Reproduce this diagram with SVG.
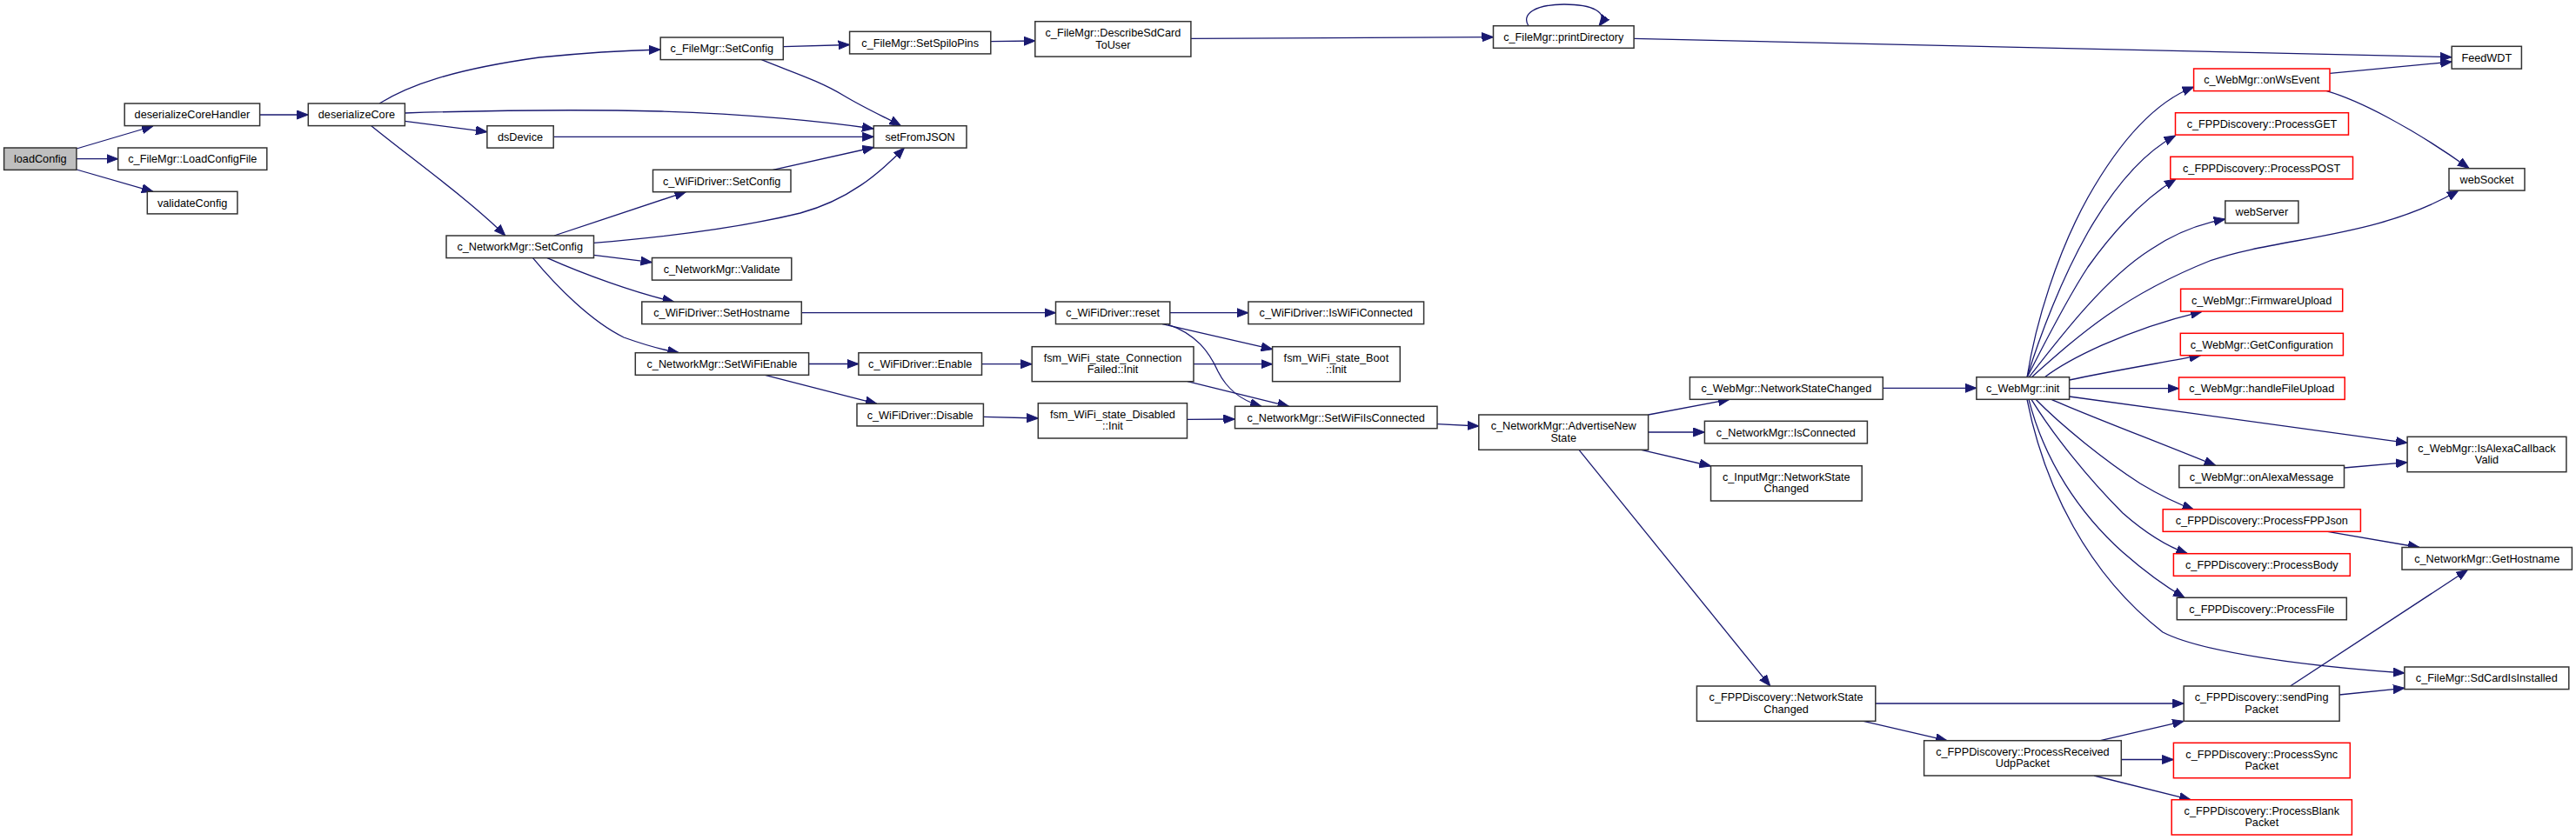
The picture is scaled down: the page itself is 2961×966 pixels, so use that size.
<svg xmlns="http://www.w3.org/2000/svg" width="2961" height="966" viewBox="0 0 2961 966">
<style>
.n rect{fill:#fff;stroke:#333;stroke-width:1.5}
.r rect{fill:#fff;stroke:#ff0000;stroke-width:1.5}
.root rect{fill:#bfbfbf;stroke:#333;stroke-width:1.5}
text{font-family:"Liberation Sans",Arial,Helvetica,sans-serif;font-size:12.7px;fill:#000;text-anchor:middle}
.e path{fill:none;stroke:#191970;stroke-width:1.3;marker-end:url(#a)}
</style>
<defs>
<marker id="a" markerWidth="13" markerHeight="11" refX="13" refY="5.5" orient="auto" markerUnits="userSpaceOnUse">
<path d="M0,0.5 L13,5.5 L0,10.5 z" fill="#191970" stroke="#191970" stroke-width="1"/>
</marker>
</defs>
<rect width="2961" height="966" fill="#fff"/>
<g class="e" id="edges">
<path d="M88,171 L176,145"/>
<path d="M88,182.7 L135.7,182.7"/>
<path d="M88,195 L176,220.3"/>
<path d="M298.6,132 L354.3,132"/>
<path d="M436,119 C470,98 520,80 620,66 C680,60 720,58 759,57"/>
<path d="M465.4,130 C560,127 680,126 760,128 C860,131 950,140 1004,148"/>
<path d="M465.4,139.3 L559.9,151.7"/>
<path d="M426.8,144.7 C470,180 540,230 580.8,271"/>
<path d="M900.3,53.7 L976.6,51.5"/>
<path d="M875.4,68.7 C910,83 940,92 970,110 C995,125 1020,136 1035.6,144.7"/>
<path d="M636.2,157.3 L1004.3,157.3"/>
<path d="M888.5,195.3 L1004.3,169.5"/>
<path d="M637,271 L788.4,220.7"/>
<path d="M682.5,279.3 C760,273 850,262 920,245 C975,230 1010,200 1039.5,170"/>
<path d="M682.5,293.3 L749.5,301.7"/>
<path d="M629,296.7 C670,315 730,337 774.6,347"/>
<path d="M612.5,296.7 C640,330 680,370 717,388 C745,398 765,403 780.5,405.7"/>
<path d="M921.3,359.7 L1213.5,359.7"/>
<path d="M929.6,418.5 L986.9,418.5"/>
<path d="M879.4,431.3 L1007.9,464.3"/>
<path d="M1344.8,359.7 L1434.9,359.7"/>
<path d="M1336,372.7 L1462.6,401.7"/>
<path d="M1343,373.3 C1375,384 1390,405 1400,427 C1410,447 1425,460 1450,467.3"/>
<path d="M1128.5,418.7 L1186.2,418.7"/>
<path d="M1372,418.7 L1462.6,418.7"/>
<path d="M1365,438.7 L1481.6,467.3"/>
<path d="M1130.4,479.3 L1193.3,481"/>
<path d="M1364.5,482.3 L1419.5,482"/>
<path d="M1652,487.7 L1699.8,490"/>
<path d="M1894.6,477 L1988,459.3"/>
<path d="M1894.6,497 L1959.4,497"/>
<path d="M1886.6,517.3 L1966.5,536"/>
<path d="M1815,517.3 L2034.8,789"/>
<path d="M2164.3,446.3 L2271.9,446.3"/>
<path d="M2155.8,809 L2510.2,809"/>
<path d="M2142,829.3 L2238,851.7"/>
<path d="M2414.3,851.7 L2510.2,829.3"/>
<path d="M2438.3,873.5 L2498.4,873.5"/>
<path d="M2407,892 L2518,919.7"/>
<path d="M2632.6,789 L2836.5,655.3"/>
<path d="M2689,799 L2763.9,791.3"/>
<path d="M2675.5,611.3 L2781,629.5"/>
<path d="M2694.5,538 L2767.1,531.7"/>
<path d="M1878,44.3 L2818,65.7"/>
<path d="M1757,30 C1748,16 1765,5 1798,5 C1830,5 1850,14 1838,30"/>
<path d="M1368.9,44.3 L1716.5,42.7"/>
<path d="M1138.8,47.7 L1189.8,47"/>
<path d="M2678,84.3 L2818.2,71"/>
<path d="M2674.4,104.7 C2710,115 2770,145 2838,193.5"/>
<path d="M2330,434 C2340,370 2365,290 2400,227 C2435,165 2475,118 2521.6,100"/>
<path d="M2330,434 C2345,385 2370,320 2400,267 C2430,215 2465,175 2500.5,156"/>
<path d="M2330,434 C2350,395 2375,345 2400,307 C2430,265 2465,228 2501,206"/>
<path d="M2332,434 C2370,385 2420,320 2472,287 C2500,268 2530,257 2557.8,252"/>
<path d="M2335,434 C2390,385 2440,340 2540,300 C2620,272 2730,275 2826,219"/>
<path d="M2350,434 C2375,415 2440,380 2531,358.3"/>
<path d="M2378.6,437 C2420,428 2480,418 2529.5,408.7"/>
<path d="M2378.6,446.7 L2504.5,446.7"/>
<path d="M2378.6,456 L2767.1,509.3"/>
<path d="M2358,459.3 C2400,478 2480,508 2546.7,535.3"/>
<path d="M2340,459.3 C2370,490 2420,530 2460,556 C2485,571 2505,580 2521.6,586"/>
<path d="M2335,459.3 C2360,500 2400,550 2440,590 C2465,612 2490,628 2514.5,636.7"/>
<path d="M2332,459.3 C2350,530 2390,590 2440,635 C2465,657 2490,675 2511,687.3"/>
<path d="M2330,459.3 C2350,560 2400,660 2486,727 C2530,750 2650,766 2763.9,774"/>
</g>
<g class="root" id="loadConfig"><rect x="4.6" y="170" width="83.3" height="25.4"/><text x="46.3" y="187.3">loadConfig</text></g>
<g class="n" id="deserializeCoreHandler"><rect x="143.2" y="119" width="155.4" height="25.6"/><text x="220.9" y="136.4">deserializeCoreHandler</text></g>
<g class="n" id="LoadConfigFile"><rect x="135.7" y="170" width="171.1" height="25.4"/><text x="221.3" y="187.3">c_FileMgr::LoadConfigFile</text></g>
<g class="n" id="validateConfig"><rect x="169.3" y="220.3" width="103.6" height="25.6"/><text x="221.1" y="237.7">validateConfig</text></g>
<g class="n" id="deserializeCore"><rect x="354.3" y="119" width="111.1" height="25.6"/><text x="409.9" y="136.4">deserializeCore</text></g>
<g class="n" id="FileMgrSetConfig"><rect x="759.2" y="43" width="141.1" height="25.6"/><text x="829.8" y="60.4">c_FileMgr::SetConfig</text></g>
<g class="n" id="SetSpiloPins"><rect x="976.6" y="36.3" width="162.2" height="25.6"/><text x="1057.7" y="53.7">c_FileMgr::SetSpiloPins</text></g>
<g class="n" id="DescribeSdCardToUser"><rect x="1189.8" y="24.7" width="179.1" height="40.4"/><text x="1279.4" y="41.9">c_FileMgr::DescribeSdCard</text><text x="1279.4" y="55.5">ToUser</text></g>
<g class="n" id="printDirectory"><rect x="1716.5" y="29.7" width="161.6" height="25.6"/><text x="1797.3" y="47.1">c_FileMgr::printDirectory</text></g>
<g class="n" id="FeedWDT"><rect x="2818.2" y="53.3" width="80.2" height="25.8"/><text x="2858.3" y="70.8">FeedWDT</text></g>
<g class="n" id="dsDevice"><rect x="559.9" y="144.7" width="76.3" height="25.4"/><text x="598" y="162">dsDevice</text></g>
<g class="n" id="setFromJSON"><rect x="1004.3" y="144.7" width="106.7" height="25.4"/><text x="1057.6" y="162">setFromJSON</text></g>
<g class="n" id="WiFiDriverSetConfig"><rect x="750.5" y="195.3" width="158.5" height="25.4"/><text x="829.7" y="212.6">c_WiFiDriver::SetConfig</text></g>
<g class="n" id="NetworkMgrSetConfig"><rect x="513" y="271" width="169.5" height="25.6"/><text x="597.7" y="288.4">c_NetworkMgr::SetConfig</text></g>
<g class="n" id="NetworkMgrValidate"><rect x="749.5" y="296.5" width="160.3" height="25.6"/><text x="829.6" y="313.9">c_NetworkMgr::Validate</text></g>
<g class="n" id="SetHostname"><rect x="737.8" y="347" width="183.5" height="25.6"/><text x="829.5" y="364.4">c_WiFiDriver::SetHostname</text></g>
<g class="n" id="SetWiFiEnable"><rect x="730.3" y="405.7" width="199.3" height="25.6"/><text x="829.9" y="423.1">c_NetworkMgr::SetWiFiEnable</text></g>
<g class="n" id="WiFiDriverEnable"><rect x="986.9" y="405.7" width="141.6" height="25.6"/><text x="1057.7" y="423.1">c_WiFiDriver::Enable</text></g>
<g class="n" id="WiFiDriverDisable"><rect x="985" y="464.3" width="145.4" height="25.6"/><text x="1057.7" y="481.7">c_WiFiDriver::Disable</text></g>
<g class="n" id="WiFiDriverReset"><rect x="1213.5" y="347" width="131.3" height="25.6"/><text x="1279.1" y="364.4">c_WiFiDriver::reset</text></g>
<g class="n" id="IsWiFiConnected"><rect x="1434.9" y="347" width="201.7" height="25.6"/><text x="1535.7" y="364.4">c_WiFiDriver::IsWiFiConnected</text></g>
<g class="n" id="ConnectionFailedInit"><rect x="1186.2" y="398.7" width="185.8" height="40"/><text x="1279.1" y="415.7">fsm_WiFi_state_Connection</text><text x="1279.1" y="429.3">Failed::Init</text></g>
<g class="n" id="BootInit"><rect x="1462.6" y="398.7" width="146.7" height="40"/><text x="1535.9" y="415.7">fsm_WiFi_state_Boot</text><text x="1535.9" y="429.3">::Init</text></g>
<g class="n" id="DisabledInit"><rect x="1193.3" y="463.7" width="171.2" height="40.3"/><text x="1278.9" y="480.8">fsm_WiFi_state_Disabled</text><text x="1278.9" y="494.4">::Init</text></g>
<g class="n" id="SetWiFiIsConnected"><rect x="1419.5" y="467.3" width="232.5" height="25.4"/><text x="1535.7" y="484.6">c_NetworkMgr::SetWiFiIsConnected</text></g>
<g class="n" id="AdvertiseNewState"><rect x="1699.8" y="477" width="194.8" height="40.3"/><text x="1797.2" y="494.1">c_NetworkMgr::AdvertiseNew</text><text x="1797.2" y="507.7">State</text></g>
<g class="n" id="WebMgrNetworkStateChanged"><rect x="1942.4" y="433.7" width="221.9" height="25.6"/><text x="2053.3" y="451.1">c_WebMgr::NetworkStateChanged</text></g>
<g class="n" id="IsConnected"><rect x="1959.4" y="484.3" width="187" height="25.6"/><text x="2052.9" y="501.7">c_NetworkMgr::IsConnected</text></g>
<g class="n" id="InputMgrNetworkStateChanged"><rect x="1966.5" y="535.7" width="173.7" height="40.3"/><text x="2053.3" y="552.8">c_InputMgr::NetworkState</text><text x="2053.3" y="566.4">Changed</text></g>
<g class="n" id="WebMgrInit"><rect x="2271.9" y="433.7" width="106.7" height="25.6"/><text x="2325.2" y="451.1">c_WebMgr::init</text></g>
<g class="n" id="FPPNetworkStateChanged"><rect x="1950.4" y="789" width="205.4" height="40.3"/><text x="2053.1" y="806.1">c_FPPDiscovery::NetworkState</text><text x="2053.1" y="819.7">Changed</text></g>
<g class="n" id="ProcessReceivedUdpPacket"><rect x="2211.6" y="851.7" width="226.7" height="40.3"/><text x="2324.9" y="868.8">c_FPPDiscovery::ProcessReceived</text><text x="2324.9" y="882.4">UdpPacket</text></g>
<g class="r" id="onWsEvent"><rect x="2521.6" y="79" width="156.4" height="25.6"/><text x="2599.8" y="96.4">c_WebMgr::onWsEvent</text></g>
<g class="r" id="ProcessGET"><rect x="2500.5" y="129.7" width="199" height="25.4"/><text x="2600" y="147">c_FPPDiscovery::ProcessGET</text></g>
<g class="r" id="ProcessPOST"><rect x="2494.8" y="180.3" width="209.7" height="25.6"/><text x="2599.6" y="197.7">c_FPPDiscovery::ProcessPOST</text></g>
<g class="n" id="webServer"><rect x="2557.8" y="231" width="84.1" height="25.6"/><text x="2599.8" y="248.4">webServer</text></g>
<g class="n" id="webSocket"><rect x="2815" y="193.7" width="87" height="25.4"/><text x="2858.5" y="211">webSocket</text></g>
<g class="r" id="FirmwareUpload"><rect x="2506.6" y="332.3" width="186.1" height="25.8"/><text x="2599.6" y="349.8">c_WebMgr::FirmwareUpload</text></g>
<g class="r" id="GetConfiguration"><rect x="2506.3" y="383.3" width="187.1" height="25.4"/><text x="2599.8" y="400.6">c_WebMgr::GetConfiguration</text></g>
<g class="r" id="handleFileUpload"><rect x="2504.5" y="434" width="190.7" height="25.4"/><text x="2599.8" y="451.3">c_WebMgr::handleFileUpload</text></g>
<g class="n" id="IsAlexaCallbackValid"><rect x="2767.1" y="502.3" width="182.8" height="40.4"/><text x="2858.5" y="519.5">c_WebMgr::IsAlexaCallback</text><text x="2858.5" y="533.1">Valid</text></g>
<g class="n" id="onAlexaMessage"><rect x="2504.8" y="535.3" width="189.7" height="25.4"/><text x="2599.6" y="552.6">c_WebMgr::onAlexaMessage</text></g>
<g class="r" id="ProcessFPPJson"><rect x="2486.2" y="585.7" width="227.2" height="25.6"/><text x="2599.8" y="603.1">c_FPPDiscovery::ProcessFPPJson</text></g>
<g class="r" id="ProcessBody"><rect x="2498.4" y="636.7" width="202.9" height="25.6"/><text x="2599.8" y="654.1">c_FPPDiscovery::ProcessBody</text></g>
<g class="n" id="ProcessFile"><rect x="2502.3" y="687.3" width="195" height="25.4"/><text x="2599.8" y="704.6">c_FPPDiscovery::ProcessFile</text></g>
<g class="n" id="GetHostname"><rect x="2761" y="629.5" width="195.4" height="25.6"/><text x="2858.7" y="646.9">c_NetworkMgr::GetHostname</text></g>
<g class="n" id="SdCardIsInstalled"><rect x="2763.9" y="767" width="188.9" height="25.6"/><text x="2858.3" y="784.4">c_FileMgr::SdCardIsInstalled</text></g>
<g class="n" id="sendPingPacket"><rect x="2510.2" y="789" width="178.9" height="40.3"/><text x="2599.6" y="806.1">c_FPPDiscovery::sendPing</text><text x="2599.6" y="819.7">Packet</text></g>
<g class="r" id="ProcessSyncPacket"><rect x="2498.4" y="854.3" width="202.9" height="40.4"/><text x="2599.8" y="871.5">c_FPPDiscovery::ProcessSync</text><text x="2599.8" y="885.1">Packet</text></g>
<g class="r" id="ProcessBlankPacket"><rect x="2496.2" y="919.7" width="207.2" height="40.3"/><text x="2599.8" y="936.8">c_FPPDiscovery::ProcessBlank</text><text x="2599.8" y="950.4">Packet</text></g>
</svg>
